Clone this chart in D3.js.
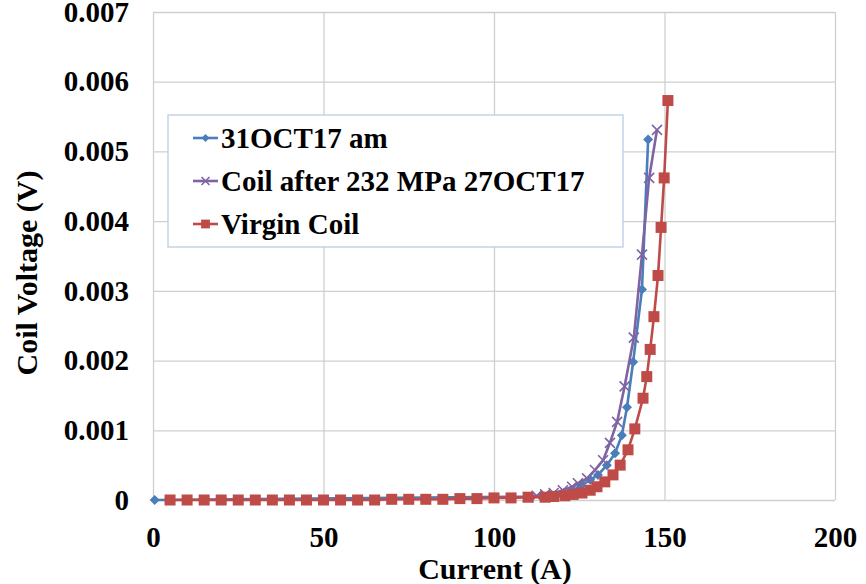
<!DOCTYPE html>
<html>
<head>
<meta charset="utf-8">
<script src="https://cdn.jsdelivr.net/npm/d3@7"></script>
<style>
  body { margin: 0; background: #fff; }
  svg { display: block; }
  text { font-family: "Liberation Serif", "Times New Roman", serif; font-weight: bold; fill: #000; }
</style>
</head>
<body>
<script>
// series: 31OCT17 am (blue diamonds)
const blueX = [0.5, 115.5, 118, 120.5, 123, 125.5, 128.2, 130.5, 133.1, 135.5, 137.5, 139, 140.8, 143.4, 145.2];
const blueY = [0, 0.00005, 0.00007, 0.0001, 0.00014, 0.0002, 0.00029, 0.00036, 0.0005, 0.00067, 0.00093, 0.00133, 0.00198, 0.00302, 0.00517];

// series: Coil after 232 MPa 27OCT17 (purple crosses)
const purpleX = [110, 112.5, 115, 117.5, 120.2, 122.9, 124.6, 127.3, 129.6, 132, 134, 136.1, 138.3, 141, 143.4, 145.5, 147.8];
const purpleY = [0.00004, 0.00006, 0.00008, 0.0001, 0.00014, 0.00019, 0.00024, 0.00031, 0.00043, 0.00057, 0.00082, 0.00112, 0.00163, 0.00233, 0.00352, 0.00462, 0.00531];

// series: Virgin Coil (red squares)
const redX = [5, 10, 15, 20, 25, 30, 35, 40, 45, 50, 55, 60, 65, 70, 75, 80, 85, 90, 95, 100, 105, 110,
  115, 117.5, 120.8, 123.2, 125.8, 128.2, 130.2, 132.5, 134.9, 137, 139.3, 141.3, 143.7, 144.8, 145.8, 146.9, 148.1, 149, 149.9, 151];
const redY = [0, 0, 0, 0, 0, 0, 0, 0, 0, 0, 0, 0, 0, 0.00001, 0.00001, 0.00001, 0.00001, 0.00002, 0.00002, 0.00003, 0.00003, 0.00004,
  0.00004, 0.00005, 0.00006, 0.00008, 0.0001, 0.00014, 0.00019, 0.00026, 0.00036, 0.0005, 0.00072, 0.00102, 0.00146, 0.00177, 0.00216, 0.00263, 0.00322, 0.00391, 0.00462, 0.00573];

const seriesNames = ['31OCT17 am', 'Coil after 232 MPa 27OCT17', 'Virgin Coil'];
const xTicks = [0, 50, 100, 150, 200];
const yTicks = [0, 0.001, 0.002, 0.003, 0.004, 0.005, 0.006, 0.007];

let width = 866, height = 584;
let fontFamily = '"Liberation Serif", "Times New Roman", serif';
let svg = d3.select('body').append('svg').attr('width', width).attr('height', height);

let plotLeft = 153, plotRight = 835, plotTop = 12, plotBottom = 500;
let x = d3.scaleLinear().domain([0, 200]).range([plotLeft, plotRight]);
let y = d3.scaleLinear().domain([0, 0.007]).range([plotBottom, plotTop]);

let gridColor = '#cfcfcf';

// gridlines + tick labels via axes
let xAxis = svg.append('g')
    .attr('transform', 'translate(0,' + plotBottom + ')')
    .call(d3.axisBottom(x).tickValues(xTicks).tickSize(-(plotBottom - plotTop)).tickPadding(26).tickFormat(d3.format('d')));
let yAxis = svg.append('g')
    .attr('transform', 'translate(' + plotLeft + ',0)')
    .call(d3.axisLeft(y).tickValues(yTicks).tickSize(-(plotRight - plotLeft)).tickPadding(24)
        .tickFormat(d => d === 0 ? '0' : d3.format('.3f')(d)));

[xAxis, yAxis].forEach(a => {
    a.select('.domain').remove();
    a.selectAll('.tick line').attr('stroke', gridColor).attr('stroke-width', 1.3);
    a.selectAll('.tick text').style('font-size', '29px').style('font-family', fontFamily).style('font-weight', 'bold');
});

// axis titles
svg.append('text')
    .attr('x', 495).attr('y', 579)
    .attr('text-anchor', 'middle')
    .style('font-family', fontFamily)
    .style('font-size', '30px')
    .text('Current (A)');

svg.append('text')
    .attr('transform', 'translate(37,273) rotate(-90)')
    .attr('text-anchor', 'middle')
    .style('font-family', fontFamily)
    .style('font-size', '30px')
    .text('Coil Voltage (V)');

let series = [
    {name: seriesNames[0], xs: blueX, ys: blueY, color: '#4a7ebb', marker: 'diamond'},
    {name: seriesNames[1], xs: purpleX, ys: purpleY, color: '#7e64a3', marker: 'cross'},
    {name: seriesNames[2], xs: redX, ys: redY, color: '#be4b48', marker: 'square'}
];

let line = d3.line().x(d => x(d[0])).y(d => y(d[1]));

function drawMarker(g, type, color, cx, cy, scale) {
    scale = scale || 1;
    if (type === 'diamond') {
        let s = 5 * scale;
        g.append('path')
            .attr('d', 'M' + cx + ',' + (cy - s) + 'L' + (cx + s) + ',' + cy + 'L' + cx + ',' + (cy + s) + 'L' + (cx - s) + ',' + cy + 'Z')
            .attr('fill', color);
    } else if (type === 'square') {
        let s = 5.5 * scale;
        g.append('rect')
            .attr('x', cx - s).attr('y', cy - s)
            .attr('width', 2 * s).attr('height', 2 * s)
            .attr('fill', color);
    } else {
        let s = 5 * scale;
        g.append('path')
            .attr('d', 'M' + (cx - s) + ',' + (cy - s) + 'L' + (cx + s) + ',' + (cy + s) + 'M' + (cx - s) + ',' + (cy + s) + 'L' + (cx + s) + ',' + (cy - s))
            .attr('stroke', color).attr('stroke-width', 1.6).attr('fill', 'none');
    }
}

series.forEach(s => {
    let pts = s.xs.map((v, i) => [v, s.ys[i]]);
    let g = svg.append('g');
    g.append('path')
        .datum(pts)
        .attr('d', line)
        .attr('fill', 'none')
        .attr('stroke', s.color)
        .attr('stroke-width', 2.6);
    pts.forEach(p => drawMarker(g, s.marker, s.color, x(p[0]), y(p[1])));
});

// legend
let legend = svg.append('g');
legend.append('rect')
    .attr('x', 168).attr('y', 115)
    .attr('width', 455).attr('height', 132)
    .attr('fill', '#fff')
    .attr('stroke', '#b9cde5')
    .attr('stroke-width', 1.3);

let legendY = [138, 181, 224];
series.forEach((s, i) => {
    let cy = legendY[i];
    legend.append('line')
        .attr('x1', 193).attr('x2', 218)
        .attr('y1', cy).attr('y2', cy)
        .attr('stroke', s.color).attr('stroke-width', 2.6);
    drawMarker(legend, s.marker, s.color, 205.5, cy, 0.8);
    legend.append('text')
        .attr('x', 221).attr('y', cy + 10)
        .style('font-family', fontFamily)
        .style('font-size', '29px')
        .text(s.name);
});
</script>
</body>
</html>
